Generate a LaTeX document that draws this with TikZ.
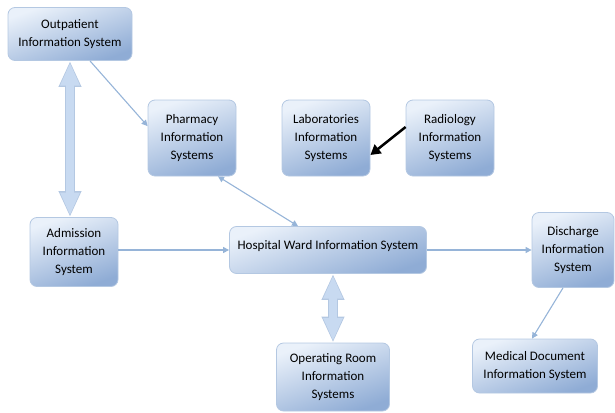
\documentclass[tikz,border=0pt]{standalone}
\usepackage{fontspec}
\setmainfont{Carlito}
\usetikzlibrary{arrows.meta}
\definecolor{boxlight}{RGB}{234,241,250}
\definecolor{boxdark}{RGB}{143,172,213}
\definecolor{boxedge}{RGB}{180,200,226}
\definecolor{linkblue}{RGB}{150,180,216}
\definecolor{fatfill}{RGB}{200,218,241}

\begin{document}
\begin{tikzpicture}
  [x=1pt, y=-1pt,
   every node/.style={draw=boxedge, line width=0.8pt, rounded corners=7pt,
     top color=boxlight, bottom color=boxdark, shading angle=20,
     align=center, inner sep=2pt, font=\fontsize{13}{18}\selectfont},
   link/.style={draw=linkblue, line width=1.1pt, -{Triangle[width=6pt,length=6pt]}},
   twolink/.style={link, {Triangle[width=6pt,length=6pt]}-{Triangle[width=6pt,length=6pt]}},
   fatedge/.style={draw=boxedge, line width=10pt,
     {Triangle[width=21pt,length=26pt]}-{Triangle[width=21pt,length=26pt]}},
   fatbody/.style={draw=fatfill, line width=8pt, shorten <=1.6pt, shorten >=1.6pt,
     {Triangle[width=18pt,length=23pt]}-{Triangle[width=18pt,length=23pt]}}]
  \useasboundingbox (0,0) rectangle (615,412);
  \node[minimum width=124pt, minimum height=53pt] (outpatient) at (70,34) {Outpatient\\Information System};
  \node[minimum width=88pt, minimum height=76pt] (pharmacy) at (192,138) {Pharmacy\\Information\\Systems};
  \node[minimum width=88pt, minimum height=76pt] (laboratories) at (326,138) {Laboratories\\Information\\Systems};
  \node[minimum width=88pt, minimum height=76pt] (radiology) at (450,138) {Radiology\\Information\\Systems};
  \node[minimum width=88pt, minimum height=69pt] (admission) at (74,252) {Admission\\Information\\System};
  \node[minimum width=197pt, minimum height=47pt, text depth=10pt] (ward) at (328,250) {Hospital Ward Information System};
  \node[minimum width=82pt, minimum height=75pt] (discharge) at (573,250) {Discharge\\Information\\System};
  \node[minimum width=113pt, minimum height=68pt] (operating) at (333,377) {Operating Room\\Information\\Systems};
  \node[minimum width=125pt, minimum height=54pt] (medical) at (535,366) {Medical Document\\Information System};

  \draw[fatedge] (outpatient.south) -- (outpatient.south |- admission.north);
  \draw[fatbody] (outpatient.south) -- (outpatient.south |- admission.north);
  \draw[fatedge] (operating.north |- ward.south) -- (operating.north);
  \draw[fatbody] (operating.north |- ward.south) -- (operating.north);

  \draw[link] ([xshift=20pt]outpatient.south) -- (pharmacy.165);
  \draw[twolink] ([xshift=26pt]pharmacy.south) -- ([xshift=-30pt]ward.north);
  \draw[black, line width=2.5pt, -{Triangle[width=11pt,length=10pt]}]
    ([yshift=11pt]radiology.west) -- ([yshift=-17pt]laboratories.east);
  \draw[link] (admission.east |- ward.west) -- (ward.west);
  \draw[link] (ward.east) -- (discharge.west);
  \draw[link] ([xshift=-10pt]discharge.south) -- ([xshift=-3pt]medical.north);
\end{tikzpicture}
\end{document}
